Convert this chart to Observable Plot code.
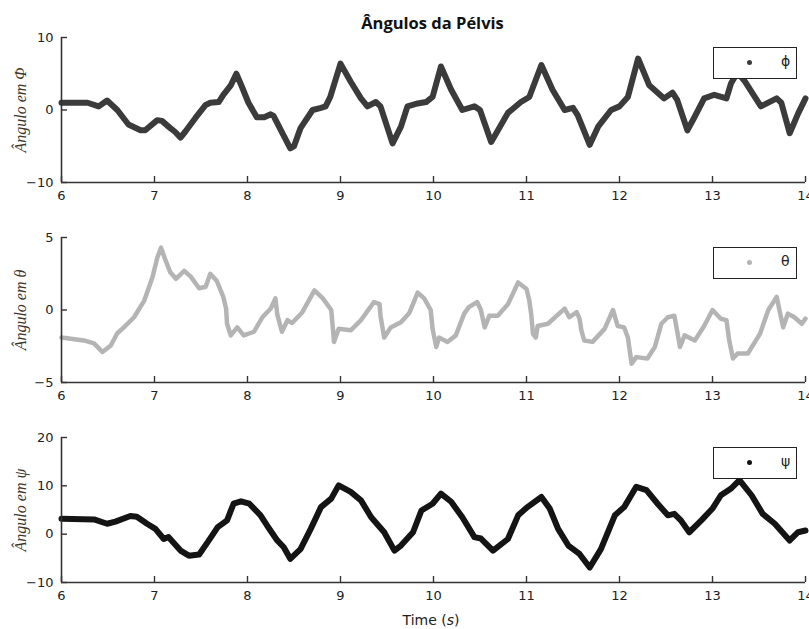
<!DOCTYPE html>
<html>
<head>
<meta charset="utf-8">
<script src="https://cdn.jsdelivr.net/npm/d3@7"></script>
<script src="https://cdn.jsdelivr.net/npm/@observablehq/plot@0.6"></script>
<style>
  body { margin: 0; background: white; }
  #wrap { position: relative; width: 809px; height: 629px; overflow: hidden; background: white; }
  .panel { position: absolute; left: 0; }
  #title { position: absolute; left: 0; width: 865px; top: 11px; text-align: center;
    font: bold 16.5px "Open Sans", sans-serif; color: #111; }
  #xlabel { position: absolute; left: 0; width: 862px; top: 612px; text-align: center;
    font: 14px "DejaVu Sans", sans-serif; color: #222; }
  .legend { position: absolute; left: 713px; width: 84px; height: 32px; box-sizing: border-box;
    border: 1.5px solid #222; background: white; }
  .legend .dot { position: absolute; left: 33px; top: 12px; width: 5px; height: 5px; border-radius: 50%; }
  .legend .lab { position: absolute; left: 67px; top: 5px; font: 14px "DejaVu Sans", sans-serif; color: #222; }
</style>
</head>
<body>
<div id="wrap">
  <div id="title">Ângulos da Pélvis</div>
  <div id="xlabel">Time (<i>s</i>)</div>
</div>
<script>
// ---- data ----
const xTicks = [6, 7, 8, 9, 10, 11, 12, 13, 14];

const phiT = [6.0, 6.28, 6.4, 6.49, 6.6, 6.72, 6.85, 6.9, 7.03, 7.08, 7.17, 7.22, 7.28, 7.33, 7.44, 7.55, 7.6, 7.69, 7.74, 7.82, 7.88, 7.94, 8.01, 8.1, 8.18, 8.25, 8.28, 8.36, 8.46, 8.5, 8.57, 8.7, 8.79, 8.84, 8.89, 9.0, 9.11, 9.22, 9.29, 9.38, 9.43, 9.56, 9.65, 9.72, 9.83, 9.92, 9.99, 10.08, 10.19, 10.31, 10.44, 10.5, 10.62, 10.67, 10.8, 10.94, 11.03, 11.16, 11.28, 11.41, 11.5, 11.55, 11.68, 11.77, 11.91, 12.0, 12.09, 12.2, 12.32, 12.48, 12.57, 12.62, 12.73, 12.81, 12.91, 13.02, 13.15, 13.2, 13.27, 13.35, 13.52, 13.69, 13.74, 13.83, 13.92, 14.0];
const phi = [1.0, 1.0, 0.5, 1.3, 0.0, -2.0, -2.8, -2.8, -1.4, -1.5, -2.5, -3.0, -3.8, -3.0, -1.1, 0.7, 1.0, 1.1, 2.1, 3.4, 5.0, 3.2, 1.0, -1.0, -1.0, -0.6, -0.8, -2.8, -5.3, -5.0, -2.5, 0.0, 0.3, 0.5, 1.8, 6.4, 3.9, 1.6, 0.5, 1.1, 0.5, -4.6, -2.3, 0.5, 0.9, 1.1, 1.8, 6.0, 2.8, 0.0, 0.5, 0.0, -4.4, -3.3, -0.4, 1.1, 1.8, 6.2, 2.8, 0.0, 0.3, -0.7, -4.8, -2.3, 0.0, 0.5, 1.8, 7.1, 3.4, 1.6, 2.4, 1.4, -2.8, -0.9, 1.6, 2.1, 1.6, 3.7, 5.2, 3.9, 0.5, 1.6, 1.0, -3.2, -0.5, 1.6];
const phiTicks = [-10, 0, 10];

const thetaT = [6.0, 6.24, 6.35, 6.44, 6.53, 6.6, 6.67, 6.78, 6.89, 6.98, 7.03, 7.07, 7.12, 7.17, 7.23, 7.32, 7.39, 7.48, 7.55, 7.6, 7.67, 7.74, 7.77, 7.78, 7.82, 7.89, 7.96, 8.07, 8.16, 8.25, 8.3, 8.32, 8.37, 8.43, 8.48, 8.59, 8.72, 8.81, 8.9, 8.92, 8.93, 8.98, 9.11, 9.22, 9.36, 9.42, 9.43, 9.47, 9.54, 9.65, 9.74, 9.83, 9.9, 9.97, 9.99, 10.03, 10.06, 10.15, 10.24, 10.33, 10.38, 10.47, 10.51, 10.55, 10.6, 10.69, 10.8, 10.91, 11.0, 11.03, 11.05, 11.07, 11.1, 11.12, 11.23, 11.41, 11.46, 11.54, 11.57, 11.59, 11.62, 11.71, 11.84, 11.93, 11.98, 12.05, 12.09, 12.13, 12.18, 12.3, 12.38, 12.45, 12.52, 12.59, 12.61, 12.65, 12.7, 12.81, 12.91, 13.0, 13.09, 13.15, 13.18, 13.22, 13.27, 13.38, 13.51, 13.6, 13.69, 13.72, 13.76, 13.81, 13.88, 13.96, 14.0];
const theta = [-1.9, -2.1, -2.3, -2.9, -2.45, -1.6, -1.2, -0.5, 0.65, 2.3, 3.6, 4.3, 3.4, 2.6, 2.15, 2.7, 2.3, 1.5, 1.6, 2.5, 2.0, 0.9, 0.1, -0.95, -1.75, -1.2, -1.75, -1.5, -0.5, 0.1, 0.8, -0.3, -1.5, -0.7, -0.9, -0.15, 1.35, 0.8, 0.0, -1.4, -2.2, -1.3, -1.4, -0.7, 0.55, 0.4, -0.4, -1.9, -1.2, -0.85, -0.2, 1.2, 0.8, 0.0, -1.3, -2.55, -1.9, -2.2, -1.75, -0.25, 0.2, 0.55, 0.0, -1.2, -0.4, -0.4, 0.4, 1.9, 1.45, 0.65, -0.25, -1.65, -1.9, -1.1, -0.95, 0.1, -0.5, -0.15, -0.6, -1.4, -2.1, -2.2, -1.3, 0.0, -1.1, -1.2, -1.9, -3.7, -3.25, -3.35, -2.55, -0.95, -0.5, -0.4, -1.1, -2.55, -1.75, -2.1, -1.1, 0.0, -0.6, -0.7, -2.1, -3.35, -3.0, -3.0, -1.65, 0.0, 0.9, 0.0, -1.2, -0.25, -0.5, -0.95, -0.6];
const thetaTicks = [-5, 0, 5];

const psiT = [6.0, 6.35, 6.49, 6.58, 6.74, 6.81, 6.92, 7.01, 7.1, 7.15, 7.28, 7.37, 7.48, 7.57, 7.68, 7.78, 7.85, 7.93, 8.02, 8.14, 8.21, 8.32, 8.39, 8.46, 8.57, 8.68, 8.79, 8.9, 8.98, 9.11, 9.22, 9.33, 9.47, 9.58, 9.65, 9.78, 9.87, 9.99, 10.08, 10.19, 10.31, 10.44, 10.51, 10.64, 10.8, 10.91, 11.01, 11.16, 11.25, 11.34, 11.45, 11.57, 11.68, 11.8, 11.95, 12.05, 12.18, 12.29, 12.41, 12.52, 12.59, 12.66, 12.75, 12.88, 13.0, 13.09, 13.2, 13.29, 13.42, 13.54, 13.67, 13.83, 13.92, 14.0];
const psi = [3.2, 3.05, 2.15, 2.6, 3.75, 3.6, 2.15, 1.1, -1.0, -0.6, -3.4, -4.45, -4.2, -1.7, 1.45, 2.85, 6.3, 6.8, 6.3, 3.9, 1.8, -1.3, -2.7, -5.1, -3.1, 1.1, 5.6, 7.35, 10.1, 8.75, 7.0, 3.5, 0.4, -3.4, -2.35, 0.4, 4.9, 6.3, 8.4, 6.7, 3.5, -0.6, -0.9, -3.4, -1.0, 3.9, 5.6, 7.7, 5.3, 1.1, -2.35, -4.1, -6.9, -3.1, 3.9, 5.6, 9.8, 9.1, 6.3, 3.9, 4.2, 2.85, 0.4, 2.85, 5.3, 8.05, 9.45, 11.2, 8.05, 4.2, 2.15, -1.3, 0.4, 0.75];
const psiTicks = [-10, 0, 10, 20];

const panels = [
  {t: phiT, v: phi, ticks: phiTicks, color: "#3b3b3b", width: 6, label: "Ângulo em Φ", legend: "ϕ", top: 27},
  {t: thetaT, v: theta, ticks: thetaTicks, color: "#b4b4b4", width: 4.5, label: "Ângulo em θ", legend: "θ", top: 227},
  {t: psiT, v: psi, ticks: psiTicks, color: "#141414", width: 6, label: "Ângulo em ψ", legend: "ψ", top: 427}
];

const W = 809, H = 185, mL = 61, mR = 4, mT = 10, mB = 30;
const plotW = W - mL - mR, plotH = H - mT - mB;
const wrap = document.getElementById("wrap");

for (const p of panels) {
  const data = p.t.map((t, i) => ({t, v: p.v[i]}));
  const yDomain = [p.ticks[0], p.ticks[p.ticks.length - 1]];
  const chart = Plot.plot({
    width: W, height: H,
    marginLeft: mL, marginRight: mR, marginTop: mT, marginBottom: mB,
    style: {fontFamily: "'DejaVu Sans', sans-serif", fontSize: "13px", color: "#222", background: "transparent", overflow: "visible"},
    x: {domain: [6, 14]},
    y: {domain: yDomain},
    marks: [
      Plot.line(data, {x: "t", y: "v", stroke: p.color, strokeWidth: p.width, strokeLinejoin: "round", strokeLinecap: "round"}),
      Plot.ruleX([6], {stroke: "#333", strokeWidth: 1.6}),
      Plot.ruleY([yDomain[0]], {stroke: "#333", strokeWidth: 1.6}),
      Plot.ruleX(xTicks, {stroke: "#333", strokeWidth: 1.4, insetTop: plotH - 6}),
      Plot.ruleY(p.ticks, {stroke: "#333", strokeWidth: 1.4, insetRight: plotW - 6}),
      Plot.axisX({ticks: xTicks, tickSize: 0, tickPadding: 8, label: null, fontSize: 13, fill: "#222", fontFamily: "'DejaVu Sans', sans-serif"}),
      Plot.axisY({ticks: p.ticks, tickSize: 0, tickPadding: 8, label: null, fontSize: 13, fill: "#222", fontFamily: "'DejaVu Sans', sans-serif"}),
      Plot.text([p.label], {text: d => d, frameAnchor: "left", textAnchor: "middle", lineAnchor: "middle", rotate: -90, dx: -41,
        fontFamily: "'Liberation Serif', serif", fontStyle: "italic", fontSize: 16, fill: "#3d3528"})
    ]
  });
  chart.classList.add("panel");
  chart.style.top = p.top + "px";
  wrap.appendChild(chart);

  const lg = document.createElement("div");
  lg.className = "legend";
  lg.style.top = (p.top + 20) + "px";
  lg.innerHTML = `<span class="dot" style="background:${p.color}"></span><span class="lab">${p.legend}</span>`;
  wrap.appendChild(lg);
}
</script>
</body>
</html>
